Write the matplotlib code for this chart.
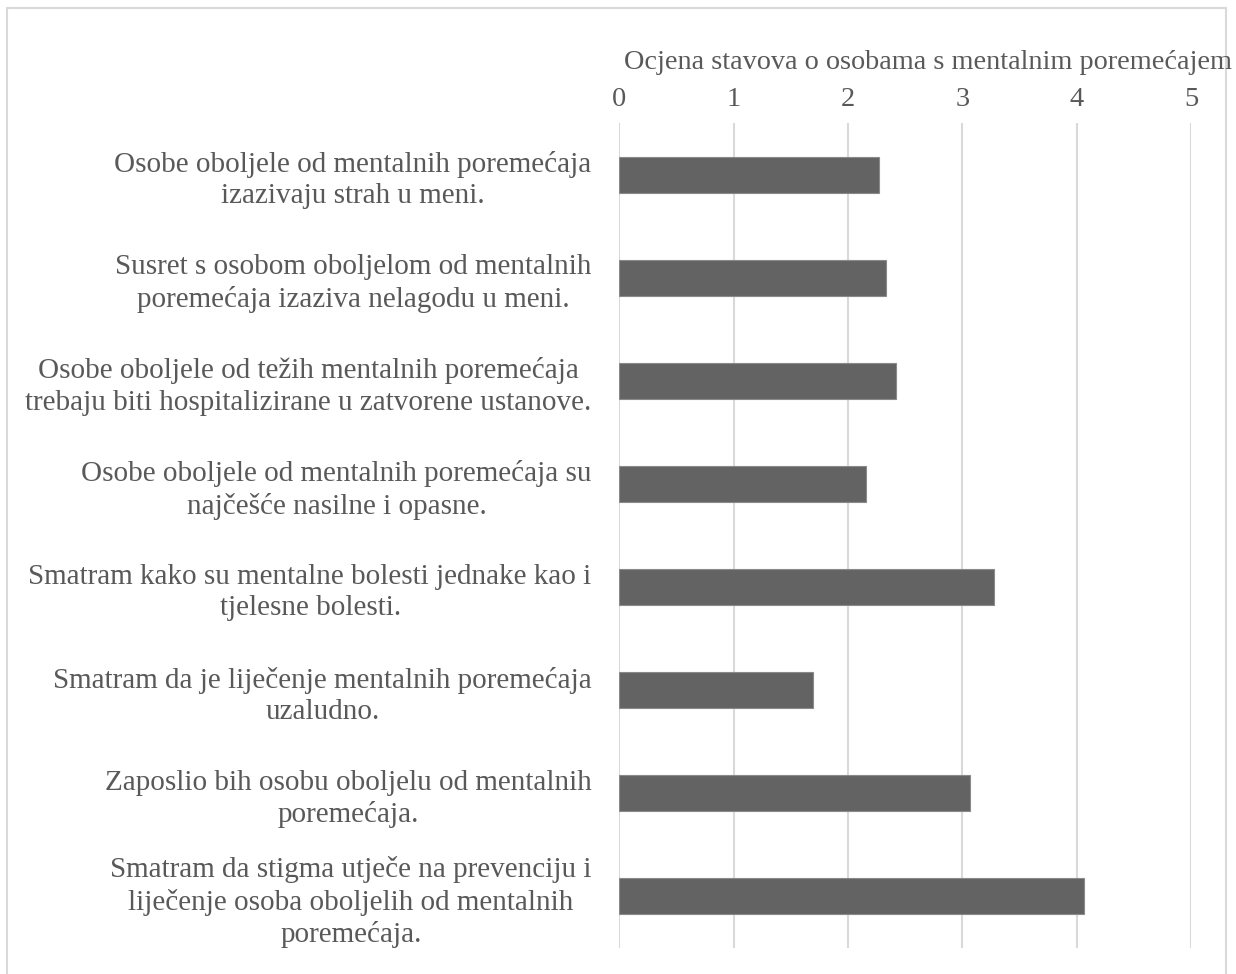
import matplotlib.pyplot as plt
from matplotlib.patches import Rectangle

plt.rcParams['font.family'] = ['Liberation Serif', 'DejaVu Serif']

labels = [
    "Osobe oboljele od mentalnih poremećaja\nizazivaju strah u meni.",
    "Susret s osobom oboljelom od mentalnih\nporemećaja izaziva nelagodu u meni.",
    "Osobe oboljele od težih mentalnih poremećaja\ntrebaju biti hospitalizirane u zatvorene ustanove.",
    "Osobe oboljele od mentalnih poremećaja su\nnajčešće nasilne i opasne.",
    "Smatram kako su mentalne bolesti jednake kao i\ntjelesne bolesti.",
    "Smatram da je liječenje mentalnih poremećaja\nuzaludno.",
    "Zaposlio bih osobu oboljelu od mentalnih\nporemećaja.",
    "Smatram da stigma utječe na prevenciju i\nliječenje osoba oboljelih od mentalnih\nporemećaja.",
]
values = [2.27, 2.33, 2.42, 2.16, 3.28, 1.69, 3.07, 4.06]
xticks = [0, 1, 2, 3, 4, 5]
title = "Ocjena stavova o osobama s mentalnim poremećajem"

text_color = '#595959'
grid_color = '#d9d9d9'

fig = plt.figure(figsize=(12.36, 9.74), dpi=100)
ax = fig.add_axes([0.5012, 0.0267, 0.9636 - 0.5012, 0.8737 - 0.0267])

pos = list(range(len(labels)))
ax.barh(pos, values, height=0.35, color='#636363', edgecolor='#8a8a8a', linewidth=0.8, zorder=3)
ax.set_ylim(len(labels) - 0.5, -0.5)
ax.set_xlim(0, 5)
ax.set_xticks(xticks)
ax.set_xticklabels([str(t) for t in xticks])
ax.xaxis.tick_top()
ax.set_yticks(pos)
ax.set_yticklabels(labels)
ax.tick_params(axis='x', length=0, pad=8, labelsize=20.5, labelcolor=text_color)
ax.tick_params(axis='y', length=0, pad=20, labelsize=21, labelcolor=text_color)
for lab in ax.get_yticklabels():
    lab.set_multialignment('center')
    lab.set_linespacing(1.27)
for s in ax.spines.values():
    s.set_visible(False)
ax.grid(axis='x', color=grid_color, linewidth=1.5, zorder=0)
ax.set_axisbelow(True)

fig.text(0.751, 0.936, title, ha='center', va='center', fontsize=20.3, color=text_color)

# chart border
fig.patches.append(Rectangle((7 / 1236, -0.02), (1226 - 7) / 1236, 1 - 8 / 974 + 0.02,
                             transform=fig.transFigure, fill=False,
                             edgecolor=grid_color, linewidth=1.5))

fig.savefig('out.png', dpi=100)
